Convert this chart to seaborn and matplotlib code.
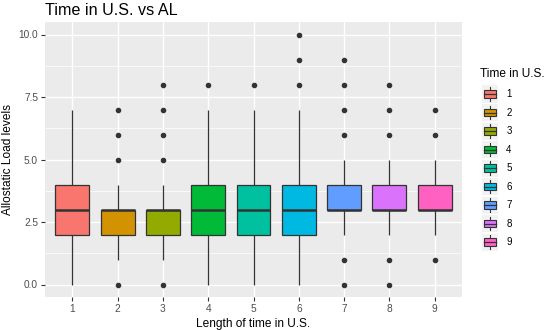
import matplotlib
matplotlib.use("Agg")
import numpy as np
import pandas as pd
import seaborn as sns
import matplotlib.pyplot as plt
from matplotlib.patches import Rectangle, Patch
from matplotlib.lines import Line2D
from matplotlib.legend_handler import HandlerBase

# allostatic load score levels and how many people sit at each level, per group
levels = [0, 1, 2, 3, 4, 5, 6, 7, 8, 9, 10]
groups = ["1", "2", "3", "4", "5", "6", "7", "8", "9"]
counts = {
    "1": [5, 10, 20, 25, 20, 10, 5, 3, 0, 0, 0],
    "2": [1, 8, 30, 35, 10, 1, 1, 1, 0, 0, 0],
    "3": [1, 8, 30, 35, 10, 1, 1, 1, 1, 0, 0],
    "4": [5, 10, 20, 25, 20, 10, 5, 3, 1, 0, 0],
    "5": [5, 10, 20, 25, 20, 10, 5, 3, 1, 0, 0],
    "6": [5, 10, 20, 25, 20, 10, 5, 3, 1, 1, 1],
    "7": [1, 1, 10, 40, 25, 8, 1, 1, 1, 1, 0],
    "8": [1, 1, 10, 40, 25, 8, 1, 1, 1, 0, 0],
    "9": [0, 1, 10, 40, 25, 8, 1, 1, 0, 0, 0],
}
colors = ["#F8766D", "#D39200", "#93AA00", "#00BA38", "#00C19F",
          "#00B9E3", "#619CFF", "#DB72FB", "#FF61C3"]

rows = []
for g in groups:
    for v in np.repeat(levels, counts[g]):
        rows.append((g, v))
df = pd.DataFrame(rows, columns=["time", "al"])

plt.rcParams["font.family"] = ["Liberation Sans", "DejaVu Sans"]

fig = plt.figure(figsize=(5.5, 3.3), dpi=100)
ax = fig.add_axes([45 / 550, 33 / 330, 417 / 550, 275 / 330])
ax.set_facecolor("#EBEBEB")

# grid first, like ggplot
for y in [1.25, 3.75, 6.25, 8.75]:
    ax.axhline(y, color="white", lw=0.5, zorder=0)
for y in [0, 2.5, 5, 7.5, 10]:
    ax.axhline(y, color="white", lw=1.0, zorder=0)
for x in range(9):
    ax.axvline(x, color="white", lw=1.0, zorder=0)

edge = "#333333"
sns.boxplot(
    data=df, x="time", y="al", hue="time", order=groups, hue_order=groups,
    palette=colors, legend=False, width=0.75, linecolor=edge, linewidth=0.9,
    showcaps=False, saturation=1, whis=1.5, ax=ax,
    medianprops=dict(linewidth=1.8, color=edge),
    flierprops=dict(marker="o", markersize=3, markerfacecolor=edge,
                    markeredgecolor=edge),
)

ax.set_xlim(-0.6, 8.6)
ax.set_ylim(-0.5, 10.5)
ax.set_yticks([0, 2.5, 5, 7.5, 10])
ax.set_yticklabels(["0.0", "2.5", "5.0", "7.5", "10.0"])
for s in ax.spines.values():
    s.set_visible(False)
ax.tick_params(length=3, width=0.8, color=edge, labelcolor="#4D4D4D",
               labelsize=7.3, pad=2)
ax.set_xlabel("Length of time in U.S.", fontsize=8.6, color="black", labelpad=3)
ax.set_ylabel("Allostatic Load levels", fontsize=8.6, color="black", labelpad=3)
ax.set_title("Time in U.S. vs AL", loc="left", fontsize=11.6, pad=5)


class BoxKey(HandlerBase):
    def create_artists(self, legend, orig_handle, xd, yd, w, h, fontsize, trans):
        x0, y0 = -xd, -yd
        fc = orig_handle.get_facecolor()
        bg = Rectangle((x0, y0), w, h, facecolor="#F2F2F2", edgecolor="none",
                       transform=trans)
        cx = x0 + w / 2
        l1 = Line2D([cx, cx], [y0 + h * 0.1, y0 + h * 0.9], color=edge,
                    lw=0.8, transform=trans)
        box = Rectangle((x0 + w * 0.1, y0 + h * 0.27), w * 0.8, h * 0.46,
                        facecolor=fc, edgecolor=edge, lw=0.8, transform=trans)
        med = Line2D([x0 + w * 0.1, x0 + w * 0.9], [y0 + h / 2, y0 + h / 2],
                     color=edge, lw=0.9, transform=trans)
        return [bg, l1, box, med]


fig.text(480 / 550, 1 - 74 / 330, "Time in U.S.", fontsize=8.6,
         va="center", ha="left")
handles = [Patch(facecolor=c) for c in colors]
leg = fig.legend(
    handles, groups, loc="upper left",
    bbox_to_anchor=(482 / 550, 1 - 85.5 / 330), frameon=False, fontsize=7,
    handler_map={Patch: BoxKey()}, handlelength=1.65,
    handleheight=2.32, labelspacing=0.15, handletextpad=0.85, borderpad=0,
    borderaxespad=0,
)

fig.savefig("out.png", dpi=100)
